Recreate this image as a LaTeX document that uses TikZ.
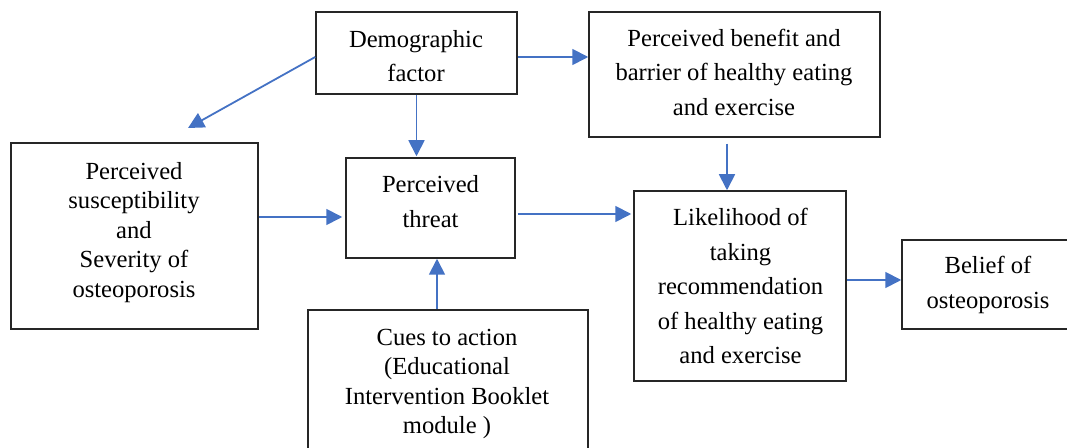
\documentclass[tikz,border=0pt]{standalone}
\usepackage{fontspec}
\setmainfont{Liberation Serif}
\usetikzlibrary{arrows.meta,fit}
\definecolor{arrblue}{HTML}{4472C4}
\definecolor{boxline}{HTML}{262626}
\begin{document}
\begin{tikzpicture}[x=0.5pt,y=-0.5pt,
  box/.style={draw=boxline,line width=0.75pt,inner sep=0pt},
  txt/.style={align=center,inner sep=0pt,font=\fontsize{12.3}{17.25}\selectfont},
  txtn/.style={align=center,inner sep=0pt,font=\fontsize{12.3}{14.75}\selectfont},
  arr/.style={draw=arrblue,line width=0.9pt,-{Triangle[length=8pt,width=8pt]}}]
\useasboundingbox (0,0) rectangle (1067,448);
\clip (0,0) rectangle (1067,448);
% boxes
\node[box,fit={(316,12) (517,94)}] (demo) {};
\node[box,fit={(589,12) (880,137)}] (benefit) {};
\node[box,fit={(11,143) (258,329)}] (susc) {};
\node[box,fit={(346,158) (515,258)}] (threat) {};
\node[box,fit={(634,191) (846,381)}] (likely) {};
\node[box,fit={(902,240) (1090,329)}] (belief) {};
\node[box,fit={(308,310) (588,470)}] (cues) {};
% texts
\node[txt] (demotxt) at (416,56) {Demographic\\factor};
\node[txt] (benefittxt) at (734,72) {Perceived benefit and\\barrier of healthy eating\\and exercise};
\node[txtn] (susctxt) at (134,232.5) {Perceived\\susceptibility\\and\\Severity of\\osteoporosis};
\node[txt] (threattxt) at (430.5,201.5) {Perceived\\threat};
\node[txt] (likelytxt) at (740.5,286) {Likelihood of\\taking\\recommendation\\of healthy eating\\and exercise};
\node[txt] (belieftxt) at (988,285) {Belief of\\osteoporosis};
\node[txtn] (cuestxt) at (447,384) {Cues to action\\(Educational\\Intervention Booklet\\module )};
% connectors
\coordinate (diagend) at (188,128);
\draw[arr] ([yshift=-2pt]demo.east) -- ([yshift=-2pt]demo.east -| benefit.west);
\draw[arr] ([yshift=-2pt]demo.west) -- (diagend);
\draw[arr] (demo.south) -- ([yshift=0.5pt]demo.south |- threat.north);
\draw[arr] ([xshift=-3.75pt,yshift=-3pt]benefit.south) -- ([xshift=-3.75pt]benefit.south |- likely.north);
\draw[arr] (susc.east |- 0,217) -- ([xshift=-1.5pt]threat.west |- 0,217);
\draw[arr] ([xshift=1pt]threat.east |- 0,214) -- ([xshift=-1pt]likely.west |- 0,214);
\draw[arr] (cues.north -| 437,0) -- (threat.south -| 437,0);
\draw[arr] (likely.east |- 0,280) -- (belief.west |- 0,280);
\end{tikzpicture}
\end{document}
